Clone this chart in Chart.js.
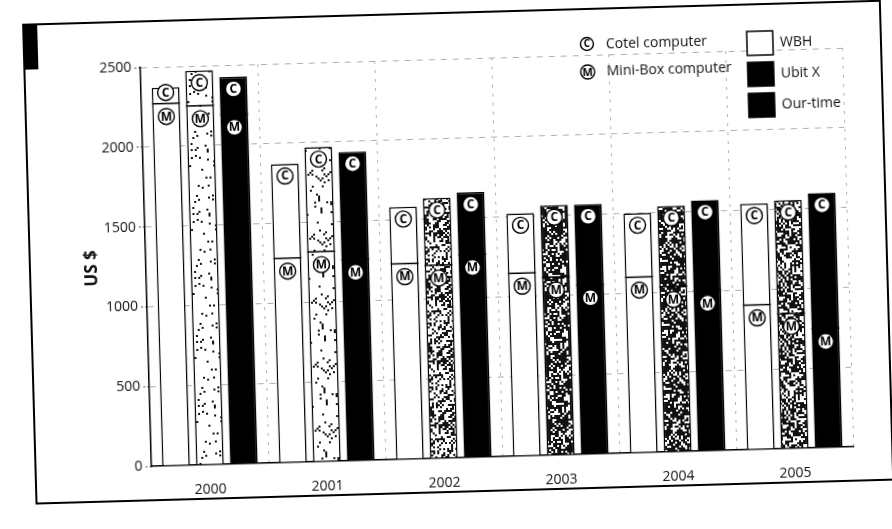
<!DOCTYPE html>
<html>
<head>
<meta charset="utf-8">
<title>Computer prices by retailer, 2000–2005</title>
<script src="https://cdn.jsdelivr.net/npm/chart.js@4/dist/chart.umd.min.js"></script>
<style>
  html, body { margin: 0; padding: 0; background: #fff; overflow: hidden; }
  #sheet {
    position: absolute; left: 0; top: 0; width: 892px; height: 529px;
    transform: rotate(-1.6deg); transform-origin: 446px 264.5px;
  }
  canvas { display: block; }
</style>
</head>
<body>
<div id="sheet"><canvas id="chart" width="892" height="529"></canvas></div>
<script>
// Years on the category axis
const years = ['2000', '2001', '2002', '2003', '2004', '2005'];

// Cotel computer price (US $) at each retailer — the full bar height
const cotelWBH  = [2370, 1870, 1580, 1520, 1500, 1540];
const cotelUbit = [2470, 1970, 1630, 1565, 1540, 1555];
const cotelOur  = [2425, 1935, 1660, 1565, 1570, 1595];

// Mini-Box computer price (US $) at each retailer — the line inside the bar
const miniWBH  = [2270, 1280, 1225, 1145, 1100, 905];
const miniUbit = [2250, 1315, 1210, 1115, 1035, 845];
const miniOur  = [2190, 1260, 1270, 1060, 1005, 745];

// Value axis ticks
const yTicks = [0, 500, 1000, 1500, 2000, 2500];

// Stipple darkness of the Ubit X bars, one per year
const ubitShade = [0.05, 0.1, 0.45, 0.7, 0.68, 0.6];

const FONT = "'Open Sans', 'DejaVu Sans', sans-serif";

// Integer mixing hash used to scatter the stipple dots
function mix(n) {
  n = (n ^ 61) ^ (n >>> 16);
  n = Math.imul(n, 9);
  n ^= n >>> 4;
  n = Math.imul(n, 0x27d4eb2d);
  n ^= n >>> 15;
  return (n >>> 0) / 4294967296;
}

// Stipple texture for the Ubit X bars
function stipple(density, k) {
  const size = 64, cell = 2, n = size / cell;
  const t = document.createElement('canvas');
  t.width = t.height = size;
  const g = t.getContext('2d');
  g.fillStyle = '#fff';
  g.fillRect(0, 0, size, size);
  g.fillStyle = '#111';
  for (let j = 0; j < n; j++) {
    for (let i = 0; i < n; i++) {
      if (mix(j * 977 + i * 31 + k * 7919 + 12345) < density) {
        g.fillRect(i * cell, j * cell, cell, cell);
      }
    }
  }
  return g.createPattern(t, 'repeat');
}

// Circled letter used for the Cotel (C) and Mini-Box (M) marks
function circled(ctx, x, y, ch, r) {
  ctx.save();
  ctx.beginPath();
  ctx.arc(x, y, r, 0, Math.PI * 2);
  ctx.fillStyle = '#fff';
  ctx.fill();
  ctx.lineWidth = 1.4;
  ctx.strokeStyle = '#000';
  ctx.stroke();
  ctx.fillStyle = '#000';
  ctx.font = `bold ${Math.round(r * 1.5)}px ${FONT}`;
  ctx.textAlign = 'center';
  ctx.textBaseline = 'middle';
  ctx.fillText(ch, x, y + 0.5);
  ctx.restore();
}

// Outer frame with the black tab in the top-left corner
const framePlugin = {
  id: 'frame',
  beforeDraw(chart) {
    const ctx = chart.ctx;
    ctx.save();
    ctx.fillStyle = '#fff';
    ctx.fillRect(0, 0, chart.width, chart.height);
    ctx.strokeStyle = '#000';
    ctx.lineWidth = 2;
    ctx.strokeRect(30, 13, 857, 479);
    ctx.fillStyle = '#000';
    ctx.fillRect(29, 12, 15, 46);
    ctx.restore();
  }
};

// Mini-Box divider line and the C / M marks on every bar
const marksPlugin = {
  id: 'marks',
  afterDatasetsDraw(chart) {
    const ctx = chart.ctx;
    const yScale = chart.scales.y;
    chart.data.datasets.forEach((ds, di) => {
      const meta = chart.getDatasetMeta(di);
      meta.data.forEach((bar, i) => {
        const half = bar.width / 2;
        const mY = yScale.getPixelForValue(ds.mini[i]);
        ctx.save();
        ctx.strokeStyle = '#000';
        ctx.lineWidth = 1.5;
        ctx.beginPath();
        ctx.moveTo(bar.x - half, mY);
        ctx.lineTo(bar.x + half, mY);
        ctx.stroke();
        ctx.restore();
        const cY = Math.min(bar.y + 12, mY - 11);
        circled(ctx, bar.x, cY, 'C', 8);
        circled(ctx, bar.x, mY + 13, 'M', 8);
      });
    });
  }
};

// Key in the top-right corner and the value-axis title
const keyPlugin = {
  id: 'key',
  afterDraw(chart) {
    const ctx = chart.ctx;
    const text = (s, x, y) => {
      ctx.fillStyle = '#111';
      ctx.font = `14px ${FONT}`;
      ctx.textAlign = 'left';
      ctx.textBaseline = 'middle';
      ctx.fillText(s, x, y);
    };
    ctx.save();
    circled(ctx, 593, 48, 'C', 6.5);
    text('Cotel computer', 612, 49);
    circled(ctx, 593, 76, 'M', 7);
    text('Mini-Box computer', 612, 76);

    const items = [
      { label: 'WBH', fill: '#fff', y: 52 },
      { label: 'Ubit X', fill: '#000', y: 83 },
      { label: 'Our-time', fill: '#000', y: 114 }
    ];
    items.forEach(it => {
      ctx.fillStyle = it.fill;
      ctx.fillRect(753, it.y - 12, 26, 24);
      ctx.strokeStyle = '#000';
      ctx.lineWidth = 1.5;
      ctx.strokeRect(753, it.y - 12, 26, 24);
      text(it.label, 786, it.y);
    });

    // value-axis title, centred on the plot height
    const area = chart.chartArea;
    ctx.translate(92, (area.top + area.bottom) / 2);
    ctx.rotate(-Math.PI / 2);
    ctx.fillStyle = '#111';
    ctx.font = `bold 17px ${FONT}`;
    ctx.textAlign = 'center';
    ctx.textBaseline = 'middle';
    ctx.fillText('US $', 0, 0);
    ctx.restore();
  }
};

new Chart(document.getElementById('chart'), {
  type: 'bar',
  data: {
    labels: years,
    datasets: [
      { label: 'WBH', data: cotelWBH, mini: miniWBH,
        backgroundColor: '#fff', borderColor: '#000', borderWidth: 1.5 },
      { label: 'Ubit X', data: cotelUbit, mini: miniUbit,
        backgroundColor: ubitShade.map(stipple), borderColor: '#000', borderWidth: 1.5 },
      { label: 'Our-time', data: cotelOur, mini: miniOur,
        backgroundColor: '#000', borderColor: '#000', borderWidth: 1.5 }
    ]
  },
  options: {
    responsive: false,
    devicePixelRatio: 1,
    animation: false,
    barPercentage: 0.82,
    categoryPercentage: 0.87,
    layout: { padding: { left: 60, right: 44, top: 59, bottom: 31 } },
    plugins: { legend: { display: false }, tooltip: { enabled: false } },
    scales: {
      x: {
        afterFit(s) { s.height = 40; },
        grid: {
          offset: true,
          drawTicks: false,
          color: ctx => (ctx.index === 0 ? 'rgba(0,0,0,0)' : '#b4b4b4'),
          lineWidth: 1
        },
        border: { color: '#000', width: 1.5, dash: [3, 6] },
        ticks: { padding: 17, color: '#111', font: { size: 14, family: FONT } }
      },
      y: {
        min: 0,
        max: 2500,
        afterFit(s) { s.width = 86; },
        afterBuildTicks(s) { s.ticks = yTicks.map(v => ({ value: v })); },
        grid: {
          color: ctx => (ctx.tick && ctx.tick.value === 0 ? 'rgba(0,0,0,0)' : '#adadad'),
          lineWidth: 1,
          tickLength: 6,
          tickColor: '#555',
          tickBorderDash: [2, 2]
        },
        border: { color: '#000', width: 1.5, dash: [6, 6] },
        ticks: {
          padding: 3,
          color: '#111',
          font: { size: 14, family: FONT },
          callback: v => String(v)
        }
      }
    }
  },
  plugins: [framePlugin, marksPlugin, keyPlugin]
});
</script>
</body>
</html>
